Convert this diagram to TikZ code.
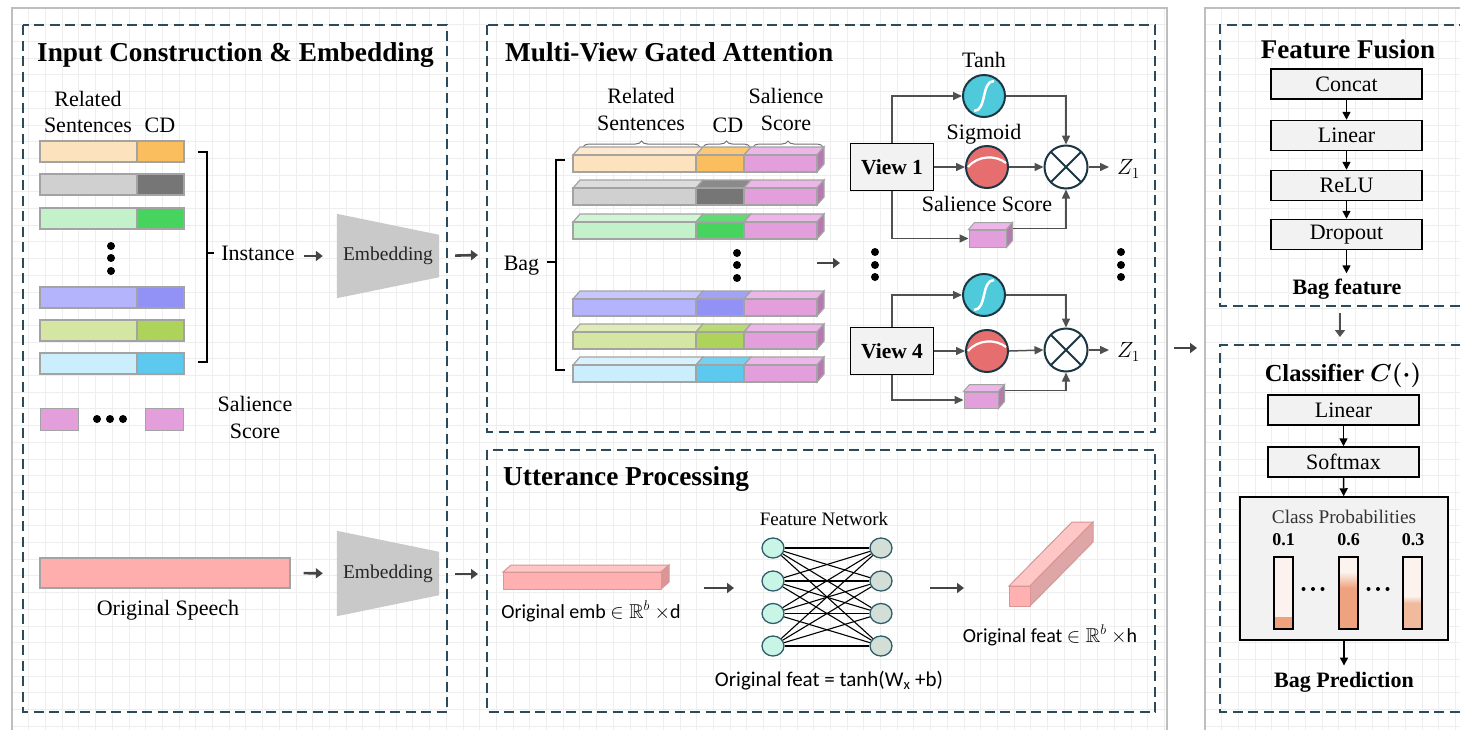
\RequirePackage{fix-cm}
\documentclass[tikz,border=0pt]{standalone}
\usepackage{amssymb}
\usepackage{fontspec}
\setmainfont{Liberation Serif}
\newfontfamily\calfont{Carlito}
\usetikzlibrary{arrows.meta,shapes.geometric,decorations.pathreplacing,calc}

\definecolor{dashc}{HTML}{2B4B5C}
\definecolor{panelc}{HTML}{BEBEBE}
\definecolor{gridc}{HTML}{EEEEEE}
\definecolor{arrc}{HTML}{444444}
\definecolor{connc}{HTML}{505050}
\definecolor{edgec}{HTML}{A3A3A3}
\definecolor{boxfill}{HTML}{F2F2F2}
\definecolor{embgray}{HTML}{C9C9C9}
\definecolor{peachL}{HTML}{FDE2BE}
\definecolor{peachD}{HTML}{FBBE5E}
\definecolor{grayL}{HTML}{D0D0D0}
\definecolor{grayD}{HTML}{767676}
\definecolor{greenL}{HTML}{C3F1C9}
\definecolor{greenD}{HTML}{46D35E}
\definecolor{lavL}{HTML}{B4B4FC}
\definecolor{lavD}{HTML}{9292F6}
\definecolor{oliveL}{HTML}{D4E6A1}
\definecolor{oliveD}{HTML}{AED35B}
\definecolor{skyL}{HTML}{CAEEFB}
\definecolor{skyD}{HTML}{5DC9EF}
\definecolor{salPink}{HTML}{E39FDB}
\definecolor{salTop}{HTML}{EDB6E8}
\definecolor{salSide}{HTML}{B57BAF}
\definecolor{speechc}{HTML}{FFAEAE}
\definecolor{embF}{HTML}{FFB1B1}
\definecolor{embT}{HTML}{FFC6C6}
\definecolor{embS}{HTML}{D89696}
\definecolor{tanhc}{HTML}{4FCADB}
\definecolor{sigc}{HTML}{E66E6E}
\definecolor{ringc}{HTML}{1C3744}
\definecolor{nodeL}{HTML}{C9F5E6}
\definecolor{nodeR}{HTML}{D3DED6}
\definecolor{nodeE}{HTML}{2F5D6B}
\definecolor{probbg}{HTML}{FCF3EF}
\definecolor{probA}{HTML}{EEA37E}
\definecolor{probB}{HTML}{F2BA9C}

\begin{document}
\begin{tikzpicture}[x=1pt,y=-1pt,
  lbl/.style={font=\fontsize{22}{25}\selectfont, inner sep=0pt, anchor=base},
  ttl/.style={font=\bfseries\fontsize{27.3}{31}\selectfont, inner sep=0pt, anchor=base west},
  cal/.style={font=\calfont\fontsize{20}{23}\selectfont, inner sep=0pt, anchor=base},
  dbox/.style={draw=dashc, line width=1.8pt, dash pattern=on 10pt off 5.5pt},
  panel/.style={draw=panelc, line width=1.6pt},
  gline/.style={draw=gridc, line width=0.8pt},
  bigarrow/.style={draw=arrc, line width=2.6pt, -{Triangle[length=7pt,width=10pt]}},
  conn/.style={draw=connc, line width=1.5pt, -{Triangle[length=9pt,width=8pt]}},
  darr/.style={draw=black, line width=1.5pt, -{Triangle[length=8pt,width=8pt]}},
  stepbox/.style={draw=black, line width=1.5pt, fill=boxfill, minimum width=151pt,
    minimum height=30pt, font=\fontsize{22}{25}\selectfont, inner sep=0pt},
  viewbox/.style={draw=black, line width=1.6pt, fill=boxfill, minimum width=83pt,
    minimum height=47pt, font=\bfseries\fontsize{21.5}{24}\selectfont, inner sep=0pt},
  ring/.style={circle, draw=ringc, line width=2pt, minimum size=42pt, inner sep=0pt},
  cell/.style={draw=edgec, line width=1.2pt},
  salbox/.style={rectangle, fill=salPink, draw=edgec, line width=1pt, inner sep=0pt},
  nnode/.style={ellipse, draw=nodeE, line width=1.3pt, minimum width=22pt, minimum height=20pt, inner sep=0pt},
  brc/.style={draw=gray!90!black, line width=1pt, decorate, decoration={brace, amplitude=6pt}},
  dot/.style={fill=black}
]
\useasboundingbox (0,0) rectangle (1460,729);
\fill[white] (0,0) rectangle (1460,729);

% ---------- outer panels with light grid ----------
\begin{scope}
  \clip (12,8) rectangle (1167,740);
  \foreach \g in {0,...,70} \draw[gline] ({12+\g*16.7},8) -- ({12+\g*16.7},740);
  \foreach \g in {0,...,44} \draw[gline] (12,{8+\g*16.7}) -- (1167,{8+\g*16.7});
\end{scope}
\begin{scope}
  \clip (1205,8) rectangle (1475,740);
  \foreach \g in {0,...,17} \draw[gline] ({1205+\g*16.7},8) -- ({1205+\g*16.7},740);
  \foreach \g in {0,...,44} \draw[gline] (1205,{8+\g*16.7}) -- (1475,{8+\g*16.7});
\end{scope}
\draw[panel] (12,740) -- (12,8) -- (1167,8) -- (1167,740);
\draw[panel] (1205,740) -- (1205,8) -- (1475,8);

% ---------- dashed section frames ----------
\draw[dbox] (23,25) rectangle (447,712);
\draw[dbox] (487,25) rectangle (1155,432);
\draw[dbox] (487,450) rectangle (1155,712);
\draw[dbox] (1475,306) -- (1220,306) -- (1220,25) -- (1475,25);
\draw[dbox] (1475,712) -- (1220,712) -- (1220,345) -- (1475,345);

% ================= Input Construction & Embedding =================
\node[ttl] (ttlin) at (37,61) {Input Construction \& Embedding};
\node[lbl] (inrel) at (88,106) {Related};
\node[lbl] (insen) at (88,132) {Sentences};
\node[lbl] (incd) at (160,132) {CD};

\foreach \y/\lc/\dc in {141/peachL/peachD, 174/grayL/grayD, 208/greenL/greenD,
                         287/lavL/lavD, 320/oliveL/oliveD, 353/skyL/skyD} {
  \filldraw[cell, fill=\lc] (40,\y) rectangle (137,\y+21);
  \filldraw[cell, fill=\dc] (137,\y) rectangle (184,\y+21);
}
\foreach \yy in {246,258,271} \fill[dot] (111,\yy) circle[radius=4pt];

% bracket grouping the instances
\draw[line width=2.2pt] (198,152) -- (207,152) -- (207,362) -- (198,362);
\draw[line width=2.2pt] (207,253) -- (214,253);
\node[lbl] (inst) at (258,260) {Instance};

% embedding trapezoid (upper)
\node[minimum width=102pt, minimum height=84pt, inner sep=0pt] (emb1) at (388,256) {};
\fill[embgray] (emb1.north west) -- ($(emb1.north east)+(0,21)$) -- ($(emb1.south east)+(0,-21)$) -- (emb1.south west) -- cycle;
\node[font=\fontsize{19.5}{22}\selectfont, inner sep=0pt, text=black!85] at (emb1) {Embedding};
\draw[bigarrow, shorten <=9pt, shorten >=14pt] (inst.east |- emb1.west) -- (emb1.west);
\coordinate (mvin) at (478,255);
\draw[bigarrow, shorten <=16pt] (emb1.east) -- (mvin);

% salience score row
\node[salbox, minimum width=38pt, minimum height=22pt] (sal1) at (59,419) {};
\node[salbox, minimum width=38pt, minimum height=22pt] (sal2) at (164,419) {};
\foreach \xx in {97,110,123} \fill[dot] (\xx,419) circle[radius=4pt];
\node[lbl] (salA) at (255,411) {Salience};
\node[lbl] (salB) at (255,438) {Score};

% original speech
\node[rectangle, fill=speechc, draw=edgec, line width=1.2pt, minimum width=250pt, minimum height=30pt, inner sep=0pt] (speech) at (165,573) {};
\node[lbl] (speechlbl) at (168,615) {Original Speech};
\node[minimum width=102pt, minimum height=85pt, inner sep=0pt] (emb2) at (388,573.5) {};
\fill[embgray] (emb2.north west) -- ($(emb2.north east)+(0,21)$) -- ($(emb2.south east)+(0,-21)$) -- (emb2.south west) -- cycle;
\node[font=\fontsize{19.5}{22}\selectfont, inner sep=0pt, text=black!85] at (emb2) {Embedding};
\draw[bigarrow, shorten <=13pt, shorten >=14pt] (speech.east) -- (emb2.west);
\coordinate (utin) at (478,574);
\draw[bigarrow, shorten <=16pt] (emb2.east |- utin) -- (utin);

% ================= Multi-View Gated Attention =================
\node[ttl] (ttlmv) at (505,61) {Multi-View Gated Attention};
\node[lbl] (mvrel) at (641,103) {Related};
\node[lbl] (mvsen) at (641,130) {Sentences};
\node[lbl] (mvcd) at (728,132) {CD};
\node[lbl] (mvsal) at (786,103) {Salience};
\node[lbl] (mvsco) at (786,130) {Score};
\draw[brc] (583,147) -- (700,147);
\draw[brc] (703,147) -- (750,147);
\draw[brc] (753,147) -- (823,147);

\foreach \y/\lc/\dc in {155/peachL/peachD, 188/grayL/grayD, 222/greenL/greenD,
                         299/lavL/lavD, 332/oliveL/oliveD, 365/skyL/skyD} {
  \filldraw[cell, fill=\lc!75!white] (573,\y) -- (580,\y-8) -- (703,\y-8) -- (696,\y) -- cycle;
  \filldraw[cell, fill=\dc!85!white] (696,\y) -- (703,\y-8) -- (751,\y-8) -- (744,\y) -- cycle;
  \filldraw[cell, fill=salTop] (744,\y) -- (751,\y-8) -- (824,\y-8) -- (817,\y) -- cycle;
  \filldraw[cell, fill=salSide] (817,\y) -- (824,\y-8) -- (824,\y+9) -- (817,\y+17) -- cycle;
  \filldraw[cell, fill=\lc] (573,\y) rectangle (696,\y+17);
  \filldraw[cell, fill=\dc] (696,\y) rectangle (744,\y+17);
  \filldraw[cell, fill=salPink] (744,\y) rectangle (817,\y+17);
}
\foreach \yy in {253,265,278} \fill[dot] (737,\yy) circle[radius=4pt];

% bag bracket
\draw[line width=2.2pt] (565,160) -- (556,160) -- (556,370) -- (565,370);
\draw[line width=2.2pt] (556,262) -- (547,262);
\node[lbl] (bag) at (521.5,270) {Bag};
\coordinate (bagout) at (817,263);
\coordinate (viewsin) at (840,263);
\draw[bigarrow] (bagout) -- (viewsin);

% view branches
\foreach \k/\vy/\ty/\sy/\my/\px/\py/\pw/\ph in {1/167/96/167/167/987.5/238.5/37/17, 4/351/295/351/350/981/400/34/16} {
  \node[viewbox] (v\k) at (892,\vy) {View \k};
  \node[ring, fill=tanhc] (t\k) at (984,\ty) {};
  \draw[white, line width=2.5pt] ($(t\k)+(-10,15)$) .. controls ($(t\k)+(3,15)$) and ($(t\k)+(-3,-15)$) .. ($(t\k)+(10,-15)$);
  \node[ring, fill=sigc] (s\k) at (987,\sy) {};
  \draw[white, line width=2.2pt] ($(s\k)+(-19,0)$) .. controls ($(s\k)+(-9,-12)$) and ($(s\k)+(9,-12)$) .. ($(s\k)+(19,-4)$);
  \node[ring, fill=white, minimum size=43pt] (m\k) at (1066,\my) {};
  \draw[ringc, line width=1.8pt] ($(m\k)+(-15,-15)$) -- ($(m\k)+(15,15)$) ($(m\k)+(-15,15)$) -- ($(m\k)+(15,-15)$);
  \node[salbox, minimum width=\pw pt, minimum height=\ph pt] (p\k) at (\px,\py) {};
  \filldraw[fill=salTop, draw=edgec, line width=1pt] (p\k.north west) -- ++(6,-7) -- ($(p\k.north east)+(6,-7)$) -- (p\k.north east) -- cycle;
  \filldraw[fill=salSide, draw=edgec, line width=1pt] (p\k.north east) -- ++(6,-7) -- ($(p\k.south east)+(6,-7)$) -- (p\k.south east) -- cycle;
  \coordinate (po\k) at ($(p\k.north east)+(6,-1)$);
  \node[font=\fontsize{22}{25}\selectfont, inner sep=0pt, anchor=west] (z\k) at (1117,{\my+2}) {$Z_1$};
  \draw[conn] (v\k.north) |- (t\k.west);
  \draw[conn] (v\k.east) -- (s\k.west);
  \draw[conn] (v\k.south) |- (p\k.west);
  \draw[conn] (t\k.east) -| (m\k.north);
  \draw[conn] (s\k.east) -- (m\k.west);
  \draw[conn] (po\k) -| (m\k.south);
  \draw[conn, shorten >=8pt] (m\k.east) -- (z\k.west |- m\k.east);
}
\node[lbl] (lbltanh) at (984,67) {Tanh};
\node[lbl] (lblsig) at (984,139) {Sigmoid};
\node[lbl] (lblsal) at (987,211) {Salience Score};
\foreach \yy in {252,265,277} {
  \fill[dot] (875,\yy) circle[radius=4pt];
  \fill[dot] (1121,\yy) circle[radius=4pt];
}

% ================= Utterance Processing =================
\node[ttl] (ttlut) at (503,485) {Utterance Processing};
% embedding bar
\filldraw[fill=embT, draw=embS, line width=1pt] (503,572) -- (511,565) -- (669,565) -- (661,572) -- cycle;
\filldraw[fill=embS, draw=embS, line width=1pt] (661,572) -- (669,565) -- (669,582) -- (661,589) -- cycle;
\node[rectangle, fill=embF, draw=embS, line width=1pt, minimum width=158pt, minimum height=17pt, inner sep=0pt] (ebar) at (582,580.5) {};
\node[cal] (eblbl) at (591,618) {Original emb $\in\mathbb{R}^{b}$ $\times$d};
\coordinate (netin) at (734,588);
\draw[bigarrow, shorten <=42pt] (ebar.east |- netin) -- (netin);

% feature network
\node[font=\fontsize{19}{22}\selectfont, inner sep=0pt, anchor=base] (fnlbl) at (824,525) {Feature Network};
\foreach \i/\ny in {1/548,2/581,3/613.5,4/646} {
  \node[nnode, fill=nodeL] (nl\i) at (773,\ny) {};
  \node[nnode, fill=nodeR] (nr\i) at (881,\ny) {};
}
\foreach \i in {1,...,4} \foreach \j in {1,...,4} \draw[line width=1.1pt] (nl\i) -- (nr\j);
\node[cal, font=\calfont\fontsize{21}{24}\selectfont] (fnform) at (829,686) {Original feat = tanh(W\textsubscript{x} +b)};
\coordinate (netout) at (930,588);
\coordinate (featin) at (964,588);
\draw[bigarrow] (netout) -- (featin);

% output feature column
\filldraw[fill=embT, draw=embS, line width=1pt] (1009,586) -- (1072,522) -- (1093,522) -- (1030,586) -- cycle;
\filldraw[fill=embS!85!white, draw=embS, line width=1pt] (1030,586) -- (1093,522) -- (1093,542) -- (1030,606) -- cycle;
\filldraw[fill=embF, draw=embS, line width=1pt] (1009,586) rectangle (1030,606);
\node[cal] (ftlbl) at (1050,642) {Original feat $\in\mathbb{R}^{b}$ $\times$h};

% link between the two panels
\coordinate (lpout) at (1174,348);
\coordinate (rpin) at (1197,348);
\draw[bigarrow] (lpout) -- (rpin);

% ================= Feature Fusion =================
\node[font=\bfseries\fontsize{27}{31}\selectfont, inner sep=0pt, anchor=base] (ttlff) at (1348,58) {Feature Fusion};
\node[stepbox] (concat) at (1346.5,84) {Concat};
\node[stepbox] (lin1) at (1346.5,135.5) {Linear};
\node[stepbox] (relu) at (1346.5,185.5) {ReLU};
\node[stepbox] (drop) at (1346.5,234.5) {Dropout};
\node[font=\bfseries\fontsize{22}{25}\selectfont, inner sep=0pt, anchor=base] (bagfeat) at (1347,294) {Bag feature};
\draw[darr] (concat) -- (lin1);
\draw[darr] (lin1) -- (relu);
\draw[darr] (relu) -- (drop);
\draw[darr, shorten >=5pt] (drop.south) -- (drop.south |- bagfeat.north);
\coordinate (ffout) at (1340,313);
\coordinate (clin) at (1340,337);
\draw[bigarrow, draw=connc] (ffout) -- (clin);

% ================= Classifier =================
\node[font=\bfseries\boldmath\fontsize{24.5}{28}\selectfont, inner sep=0pt, anchor=base] (ttlcl) at (1343,381) {Classifier $C(\cdot)$};
\node[stepbox] (lin2) at (1343.5,410) {Linear};
\node[stepbox] (soft) at (1343.5,462) {Softmax};
\node[draw=black, line width=1.5pt, fill=boxfill, minimum width=208pt, minimum height=143pt, inner sep=0pt] (probs) at (1344,568.5) {};
\draw[darr] (lin2) -- (soft);
\draw[darr] (soft) -- (probs);
\node[font=\fontsize{19.3}{22}\selectfont, inner sep=0pt, anchor=base, text=black!80] (cplbl) at (1344,523) {Class Probabilities};
\node[font=\bfseries\fontsize{18}{21}\selectfont, inner sep=0pt, anchor=base] (pv1) at (1283.5,545) {0.1};
\node[font=\bfseries\fontsize{18}{21}\selectfont, inner sep=0pt, anchor=base] (pv2) at (1348.5,545) {0.6};
\node[font=\bfseries\fontsize{18}{21}\selectfont, inner sep=0pt, anchor=base] (pv3) at (1413,545) {0.3};
% probability bars
\fill[probbg] (1274,557) rectangle (1293,629);
\fill[probA] (1274,617) rectangle (1293,629);
\fill[probbg] (1339,557) rectangle (1358,629);
\shade[top color=probbg, bottom color=probA] (1339,572) rectangle (1358,588);
\fill[probA] (1339,588) rectangle (1358,629);
\fill[probbg] (1403,557) rectangle (1422,629);
\shade[top color=probbg, bottom color=probB] (1403,596) rectangle (1422,603);
\fill[probB] (1403,603) rectangle (1422,629);
\foreach \bx in {1274,1339,1403} \draw[line width=1.5pt] (\bx,557) rectangle ({\bx+19},629);
\foreach \dx in {1303.5,1313,1322.5,1368.5,1378,1387.5} \fill[dot] (\dx,589) circle[radius=2pt];
\node[font=\bfseries\fontsize{22}{25}\selectfont, inner sep=0pt, anchor=base] (bagpred) at (1344,687) {Bag Prediction};
\draw[darr, shorten >=6pt] (probs.south) -- (probs.south |- bagpred.north);

\end{tikzpicture}
\end{document}
